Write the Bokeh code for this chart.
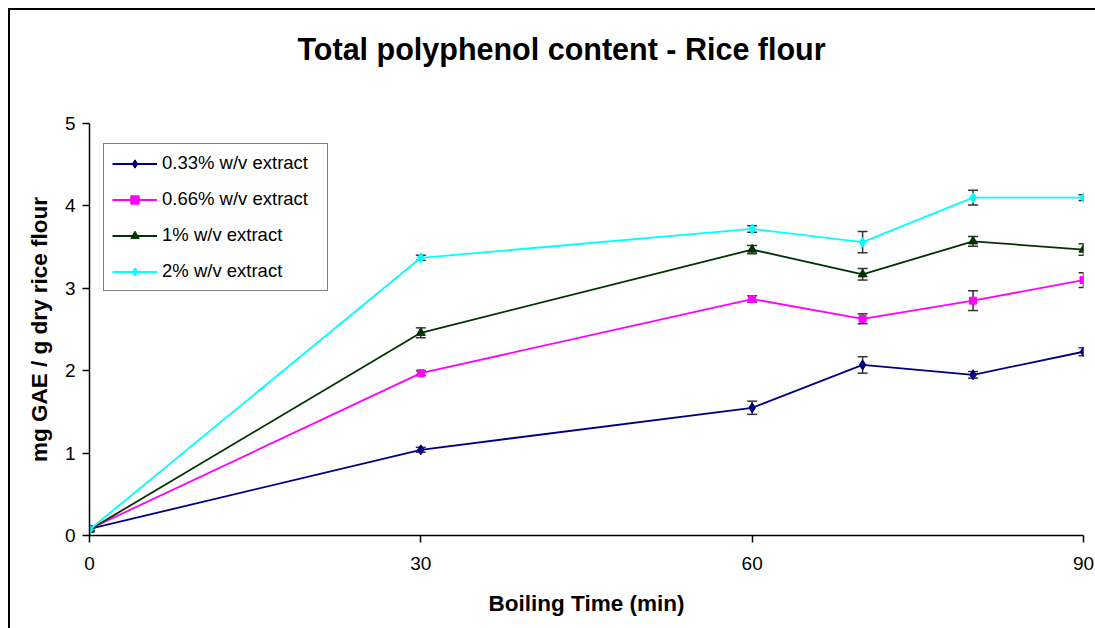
from bokeh.plotting import figure
from bokeh.models import ColumnDataSource, Whisker, TeeHead, Legend, LegendItem, Range1d, FixedTicker, Title
from bokeh.layouts import column
from bokeh.embed import file_html
from bokeh.resources import INLINE

time_min = [0, 30, 60, 70, 80, 90]
series_names = ["0.33% w/v extract", "0.66% w/v extract", "1% w/v extract", "2% w/v extract"]
v033 = [0.08, 1.04, 1.55, 2.07, 1.95, 2.23]
e033 = [0.02, 0.03, 0.08, 0.10, 0.04, 0.05]
v066 = [0.08, 1.97, 2.87, 2.63, 2.85, 3.10]
e066 = [0.02, 0.03, 0.04, 0.06, 0.12, 0.09]
v1 = [0.07, 2.46, 3.47, 3.17, 3.57, 3.47]
e1 = [0.02, 0.06, 0.05, 0.07, 0.06, 0.07]
v2 = [0.07, 3.37, 3.72, 3.56, 4.10, 4.10]
e2 = [0.02, 0.03, 0.04, 0.13, 0.09, 0.035]
x_ticks = [0, 30, 60, 90]
y_ticks = [0, 1, 2, 3, 4, 5]
title_text = "Total polyphenol content - Rice flour"

FONT = "Liberation Sans"

p = figure(width=1085, height=618, output_backend="svg", toolbar_location=None,
           x_range=Range1d(0, 90), y_range=Range1d(0, 5), title=None,
           min_border_left=79, min_border_right=12, min_border_top=113, min_border_bottom=93)

# spacer panel nearest the frame, then the real title above it
p.add_layout(Title(text=" ", text_font_size="10px", standoff=45), "above")
p.add_layout(Title(text=title_text, text_font=FONT, text_font_size="30.5px",
                   text_font_style="bold", text_color="black", align="left",
                   offset=208, standoff=0), "above")

p.grid.visible = False
p.outline_line_color = None
p.background_fill_color = "white"
p.border_fill_color = "white"

for ax in (p.xaxis[0], p.yaxis[0]):
    ax.axis_line_color = "black"
    ax.axis_line_width = 1.5
    ax.major_tick_line_color = "black"
    ax.major_tick_line_width = 1.5
    ax.major_tick_out = 7
    ax.major_tick_in = 0
    ax.minor_tick_line_color = None
    ax.major_label_text_font = FONT
    ax.major_label_text_font_size = "19px"
    ax.major_label_text_color = "black"
    ax.axis_label_text_font = FONT
    ax.axis_label_text_font_size = "22.5px"
    ax.axis_label_text_font_style = "bold"
    ax.axis_label_text_color = "black"

p.xaxis.ticker = FixedTicker(ticks=x_ticks)
p.yaxis.ticker = FixedTicker(ticks=y_ticks)
p.xaxis.axis_label = "Boiling Time (min)"
p.yaxis.axis_label = "mg GAE / g dry rice flour"
p.xaxis.major_label_standoff = 14
p.yaxis.major_label_standoff = 7
p.xaxis.axis_label_standoff = 18
p.yaxis.axis_label_standoff = 10

styles = [
    (v033, e033, "#000080", "diamond", 10),
    (v066, e066, "#FF00FF", "square", 7),
    (v1, e1, "#003300", "triangle", 9),
    (v2, e2, "#00FFFF", "diamond", 10),
]

items = []
for name, (vals, errs, color, marker, size) in zip(series_names, styles):
    src = ColumnDataSource(dict(x=time_min, y=vals,
                                lo=[v - e for v, e in zip(vals, errs)],
                                hi=[v + e for v, e in zip(vals, errs)]))
    w = Whisker(source=src, base="x", lower="lo", upper="hi", line_color="#333333", line_width=1.5,
                upper_head=TeeHead(size=10, line_color="#333333", line_width=1.5),
                lower_head=TeeHead(size=10, line_color="#333333", line_width=1.5))
    p.add_layout(w)
    r1 = p.line("x", "y", source=src, line_color=color, line_width=1.8)
    r2 = p.scatter("x", "y", source=src, marker=marker, size=size, fill_color=color, line_color=color)
    items.append(LegendItem(label=name, renderers=[r1, r2]))

legend = Legend(items=items, location=(14, 244), border_line_color="black", border_line_width=1.5,
                label_text_font=FONT, label_text_font_size="18.5px", label_text_color="black",
                glyph_width=45, glyph_height=21, label_height=21, spacing=14, padding=8, margin=0,
                label_width=157, label_standoff=5, background_fill_alpha=1.0)
p.add_layout(legend, "center")

layout = column(p, styles={"margin-left": "8px", "margin-top": "8px",
                           "border-left": "2px solid black", "border-top": "2px solid black"})

open("out.html", "w").write(file_html(layout, INLINE))
